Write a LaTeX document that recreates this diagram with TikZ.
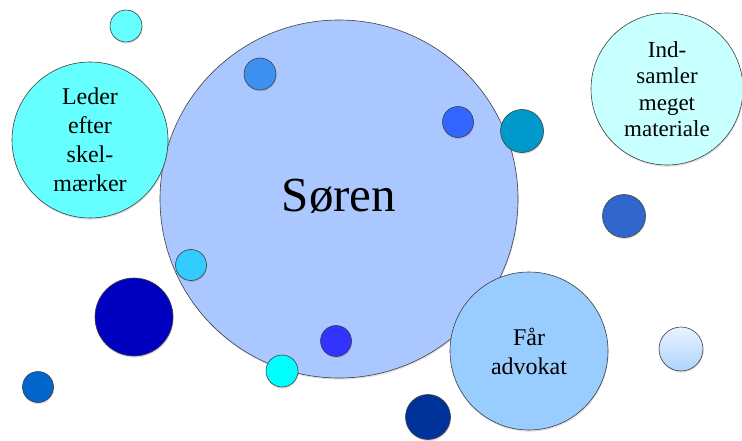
\documentclass[tikz,border=0pt]{standalone}
\usepackage{fontspec}
\setmainfont{Liberation Serif}
\usetikzlibrary{shadows}
\definecolor{soren}{HTML}{AAC8FF}
\definecolor{leder}{HTML}{66FFFF}
\definecolor{indsam}{HTML}{C8FFFF}
\definecolor{faar}{HTML}{99CCFF}
\definecolor{dotA}{HTML}{66FFFF}
\definecolor{dotB}{HTML}{3D90F0}
\definecolor{dotC}{HTML}{3366FF}
\definecolor{dotD}{HTML}{0099CC}
\definecolor{dotE}{HTML}{3366CC}
\definecolor{dotF}{HTML}{33CCFF}
\definecolor{dotG}{HTML}{0000C0}
\definecolor{dotH}{HTML}{0066CC}
\definecolor{dotI}{HTML}{00FFFF}
\definecolor{dotJ}{HTML}{3333FF}
\definecolor{dotK}{HTML}{003399}
\definecolor{dotLtop}{HTML}{EAF3FF}
\definecolor{dotLbot}{HTML}{AED3FF}
\begin{document}
\begin{tikzpicture}[x=1pt, y=-1pt,
  bubble/.style={circle, draw=black!75, line width=0.6pt, inner sep=0pt,
    drop shadow={opacity=0.25, shadow xshift=0.6pt, shadow yshift=-1.6pt}},
  label/.style={align=center, font=\fontsize{24}{29}\selectfont}]
\useasboundingbox (0,0) rectangle (742,441);
% big circle
\node[bubble, fill=soren, minimum size=358pt] (soren) at (339,199) {};
\node[font=\fontsize{49}{55}\selectfont] (sorenlabel) at (339,196) {Søren};
% labelled circles
\node[bubble, fill=leder, minimum size=156pt, label] (leder) at (90,140)
  {Leder\\efter\\skel-\\mærker};
\node[bubble, fill=indsam, minimum size=152pt, label,
  font=\fontsize{23}{26.5}\selectfont] (indsam) at (667,89)
  {Ind-\\samler\\meget\\materiale};
\node[bubble, fill=faar, minimum size=158pt, label] (faar) at (529,351)
  {Får\\advokat};
% small dots
\node[bubble, fill=dotA, minimum size=32pt] (dotA) at (126,26) {};
\node[bubble, fill=dotB, minimum size=32pt] (dotB) at (260,74) {};
\node[bubble, fill=dotC, minimum size=31pt] (dotC) at (458,122) {};
\node[bubble, fill=dotD, minimum size=43pt] (dotD) at (522,131) {};
\node[bubble, fill=dotE, minimum size=43pt] (dotE) at (624,216) {};
\node[bubble, fill=dotF, minimum size=31pt] (dotF) at (191,265) {};
\node[bubble, fill=dotG, minimum size=78pt] (dotG) at (134,317) {};
\node[bubble, fill=dotH, minimum size=31pt] (dotH) at (38,387) {};
\node[bubble, fill=dotI, minimum size=32pt] (dotI) at (282,371) {};
\node[bubble, fill=dotJ, minimum size=31pt] (dotJ) at (336,341) {};
\node[bubble, fill=dotK, minimum size=45pt] (dotK) at (428,417) {};
\node[bubble, top color=dotLtop, bottom color=dotLbot, minimum size=44pt] (dotL) at (681,349) {};
\end{tikzpicture}
\end{document}
